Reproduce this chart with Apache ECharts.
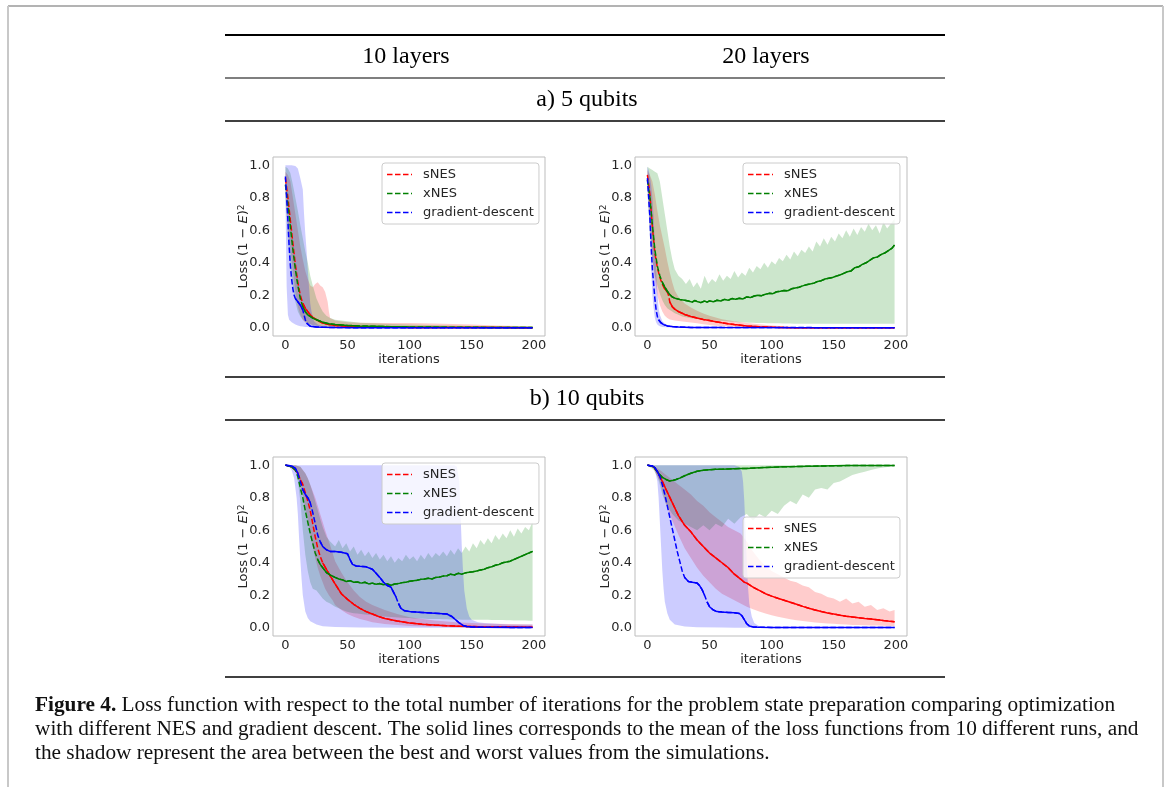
<!DOCTYPE html>
<html><head><meta charset="utf-8">
<script src="https://cdn.jsdelivr.net/npm/echarts@6/dist/echarts.min.js"></script>
<style>html,body{margin:0;padding:0;background:#fff}#c{width:1167px;height:787px}</style>
</head><body><div id="c"></div><script>
// ---------- text / ticks ----------
const seriesNames = ['sNES', 'xNES', 'gradient-descent'];
const colHeaders = ['10 layers', '20 layers'];
const rowHeaders = ['a) 5 qubits', 'b) 10 qubits'];
const xTicks = [0, 50, 100, 150, 200];
const yTicks = [0, 0.2, 0.4, 0.6, 0.8, 1.0];
const xLabel = 'iterations';
const captionLines = [
  'Loss function with respect to the total number of iterations for the problem state preparation comparing optimization',
  'with different NES and gradient descent. The solid lines corresponds to the mean of the loss functions from 10 different runs, and',
  'the shadow represent the area between the best and worst values from the simulations.'
];
const captionLabel = 'Figure 4.';

// ---------- a) 5 qubits, 10 layers : mean [it, loss], band [it, min, max] ----------
const a10_sNES_mean = [[0,0.92],[2,0.8],[4,0.66],[6,0.52],[8,0.39],[10,0.28],[12,0.2],[14,0.15],[16,0.12],[18,0.1],[20,0.08],[22,0.065],[25,0.05],[30,0.03],[35,0.02],[40,0.015],[50,0.01],[60,0.007],[80,0.005],[100,0.003],[130,0.002],[160,0.002],[199,0.001]];
const a10_xNES_mean = [[0,0.88],[2,0.76],[4,0.62],[6,0.48],[8,0.36],[10,0.26],[12,0.18],[14,0.13],[16,0.1],[18,0.08],[20,0.07],[22,0.06],[25,0.05],[30,0.035],[35,0.025],[40,0.02],[50,0.015],[60,0.012],[70,0.01],[80,0.008],[100,0.006],[130,0.004],[160,0.003],[199,0.002]];
const a10_gd_mean = [[0,0.93],[1,0.8],[2,0.66],[3,0.5],[4,0.38],[5,0.3],[6,0.24],[7,0.2],[8,0.18],[10,0.16],[12,0.14],[14,0.11],[15,0.08],[16,0.05],[17,0.03],[18,0.02],[20,0.01],[25,0.006],[30,0.004],[40,0.002],[60,0.001],[199,0.001]];
const a10_sNES_band = [[0,0.85,0.96],[2,0.62,0.94],[4,0.48,0.9],[6,0.35,0.8],[8,0.22,0.7],[10,0.13,0.6],[12,0.08,0.5],[14,0.05,0.42],[16,0.035,0.35],[18,0.028,0.3],[20,0.022,0.26],[22,0.018,0.25],[24,0.015,0.27],[26,0.012,0.28],[28,0.01,0.26],[30,0.009,0.25],[32,0.008,0.22],[34,0.007,0.16],[35,0.007,0.1],[36,0.006,0.06],[40,0.005,0.045],[50,0.004,0.035],[60,0.003,0.032],[80,0.002,0.03],[100,0.002,0.03],[120,0.001,0.027],[150,0.001,0.02],[170,0.001,0.015],[199,0,0.01]];
const a10_xNES_band = [[0,0.8,0.99],[2,0.55,0.98],[4,0.38,0.95],[6,0.25,0.88],[8,0.16,0.8],[10,0.1,0.72],[12,0.07,0.63],[14,0.05,0.55],[16,0.035,0.47],[18,0.027,0.4],[20,0.02,0.32],[22,0.016,0.26],[25,0.012,0.18],[28,0.01,0.13],[30,0.008,0.1],[33,0.006,0.075],[36,0.005,0.06],[40,0.004,0.05],[50,0.003,0.04],[60,0.002,0.032],[80,0.002,0.025],[100,0.001,0.02],[150,0.001,0.012],[199,0,0.006]];
const a10_gd_band = [[0,0.8,1.0],[1,0.25,1.0],[2,0.08,1.0],[3,0.05,1.0],[5,0.035,1.0],[8,0.02,0.995],[10,0.015,0.98],[12,0.01,0.92],[14,0.008,0.85],[15,0.007,0.7],[16,0.006,0.58],[17,0.005,0.48],[18,0.005,0.36],[19,0.004,0.25],[20,0.004,0.15],[21,0.003,0.1],[23,0.003,0.04],[26,0.002,0.02],[30,0.001,0.01],[40,0,0.005],[60,0,0.002],[199,0,0.001]];

// ---------- a) 5 qubits, 20 layers ----------
const a20_sNES_mean = [[0,0.94],[2,0.82],[4,0.62],[6,0.46],[8,0.37],[10,0.31],[12,0.27],[14,0.24],[16,0.22],[17,0.2],[18,0.16],[20,0.13],[22,0.115],[25,0.1],[28,0.09],[30,0.082],[35,0.07],[40,0.06],[45,0.052],[50,0.045],[55,0.038],[60,0.031],[65,0.025],[70,0.02],[75,0.016],[80,0.012],[90,0.007],[100,0.004],[110,0.002],[120,0.001],[150,0.0005],[199,0.0003]];
const a20_xNES_mean = [[0,0.91],[2,0.8],[4,0.63],[6,0.48],[8,0.38],[10,0.32],[12,0.28],[14,0.25],[16,0.225],[18,0.205],[20,0.19],[23,0.18],[26,0.175],[30,0.17],[33,0.165],[36,0.158],[38,0.168],[40,0.162],[43,0.155],[46,0.165],[48,0.158],[50,0.166],[53,0.16],[56,0.17],[59,0.165],[62,0.175],[65,0.17],[68,0.18],[71,0.176],[74,0.182],[77,0.178],[80,0.19],[83,0.186],[86,0.196],[89,0.2],[92,0.198],[95,0.207],[98,0.212],[101,0.21],[104,0.222],[107,0.225],[110,0.23],[113,0.228],[116,0.24],[119,0.245],[122,0.25],[125,0.258],[128,0.265],[131,0.27],[134,0.275],[137,0.285],[140,0.29],[143,0.3],[146,0.305],[149,0.31],[152,0.318],[155,0.325],[158,0.335],[161,0.345],[164,0.35],[167,0.37],[170,0.375],[173,0.39],[176,0.4],[179,0.415],[182,0.43],[185,0.435],[188,0.45],[191,0.46],[194,0.475],[197,0.49],[199,0.51]];
const a20_gd_mean = [[0,0.92],[1,0.8],[2,0.68],[3,0.5],[4,0.36],[5,0.27],[6,0.18],[7,0.11],[8,0.07],[9,0.05],[11,0.03],[13,0.02],[16,0.012],[20,0.008],[25,0.005],[35,0.003],[60,0.002],[199,0.001]];
const a20_sNES_band = [[0,0.88,0.97],[2,0.62,0.94],[4,0.42,0.9],[6,0.3,0.82],[8,0.2,0.72],[10,0.14,0.63],[12,0.1,0.56],[14,0.075,0.49],[16,0.06,0.41],[18,0.052,0.34],[20,0.048,0.28],[22,0.045,0.23],[25,0.042,0.19],[30,0.038,0.15],[35,0.033,0.125],[40,0.028,0.105],[45,0.022,0.088],[50,0.017,0.075],[55,0.013,0.063],[60,0.01,0.053],[70,0.006,0.04],[80,0.003,0.03],[90,0.002,0.022],[100,0.001,0.015],[110,0,0.01],[120,0,0.005],[140,0,0.002],[199,0,0.001]];
const a20_xNES_band = [[0,0.85,0.99],[2,0.58,0.98],[4,0.42,0.97],[6,0.32,0.96],[8,0.26,0.95],[10,0.21,0.9],[12,0.17,0.8],[14,0.14,0.7],[16,0.12,0.6],[18,0.11,0.5],[20,0.1,0.42],[22,0.09,0.36],[25,0.08,0.32],[28,0.07,0.3],[31,0.065,0.27],[34,0.06,0.3],[37,0.058,0.25],[40,0.055,0.28],[43,0.052,0.24],[46,0.05,0.32],[49,0.048,0.27],[52,0.046,0.3],[55,0.045,0.28],[58,0.043,0.33],[61,0.042,0.29],[64,0.04,0.32],[67,0.038,0.3],[70,0.037,0.35],[73,0.035,0.31],[76,0.034,0.34],[79,0.033,0.32],[82,0.032,0.37],[85,0.031,0.34],[88,0.03,0.38],[91,0.03,0.36],[94,0.03,0.4],[97,0.029,0.37],[100,0.028,0.41],[103,0.028,0.39],[106,0.028,0.43],[109,0.027,0.41],[112,0.027,0.45],[115,0.027,0.42],[118,0.026,0.47],[121,0.026,0.44],[124,0.026,0.48],[127,0.026,0.46],[130,0.025,0.5],[133,0.025,0.47],[136,0.025,0.53],[139,0.025,0.5],[142,0.025,0.55],[145,0.025,0.51],[148,0.025,0.56],[151,0.025,0.53],[154,0.025,0.58],[157,0.025,0.55],[160,0.025,0.6],[163,0.025,0.56],[166,0.025,0.61],[169,0.025,0.57],[172,0.025,0.62],[175,0.025,0.59],[178,0.025,0.64],[181,0.025,0.6],[184,0.025,0.63],[187,0.025,0.58],[190,0.025,0.65],[193,0.025,0.61],[196,0.025,0.64],[199,0.025,0.67]];
const a20_gd_band = [[0,0.88,0.99],[1,0.72,0.97],[2,0.56,0.93],[3,0.36,0.88],[4,0.2,0.8],[5,0.12,0.68],[6,0.06,0.52],[7,0.035,0.37],[8,0.02,0.22],[9,0.014,0.12],[10,0.01,0.08],[12,0.006,0.04],[15,0.004,0.02],[20,0.002,0.01],[30,0.001,0.005],[50,0,0.003],[199,0,0.002]];

// ---------- b) 10 qubits, 10 layers ----------
const b10_sNES_mean = [[0,1.0],[5,0.99],[8,0.97],[10,0.95],[12,0.91],[14,0.88],[16,0.83],[18,0.78],[20,0.72],[22,0.64],[24,0.56],[26,0.49],[28,0.44],[30,0.4],[33,0.36],[36,0.32],[40,0.27],[45,0.21],[50,0.175],[55,0.145],[60,0.12],[65,0.1],[70,0.085],[75,0.07],[80,0.058],[90,0.042],[100,0.03],[110,0.022],[120,0.017],[130,0.013],[140,0.01],[150,0.008],[160,0.006],[180,0.005],[199,0.004]];
const b10_xNES_mean = [[0,1.0],[5,0.99],[8,0.97],[10,0.93],[12,0.86],[14,0.8],[16,0.72],[18,0.65],[20,0.58],[22,0.52],[24,0.46],[26,0.42],[28,0.39],[30,0.37],[33,0.34],[36,0.325],[40,0.31],[43,0.3],[46,0.295],[49,0.285],[52,0.29],[55,0.28],[58,0.282],[61,0.275],[64,0.28],[67,0.27],[70,0.275],[73,0.268],[76,0.272],[79,0.265],[82,0.27],[85,0.262],[88,0.27],[91,0.272],[94,0.278],[97,0.28],[100,0.286],[103,0.29],[106,0.292],[109,0.298],[112,0.3],[115,0.305],[118,0.3],[121,0.31],[124,0.312],[127,0.318],[130,0.32],[133,0.33],[136,0.325],[139,0.335],[142,0.33],[145,0.338],[148,0.342],[151,0.345],[154,0.35],[157,0.355],[160,0.36],[163,0.37],[166,0.375],[169,0.385],[172,0.39],[175,0.4],[178,0.405],[181,0.41],[184,0.42],[187,0.43],[190,0.44],[193,0.45],[196,0.46],[199,0.47]];
const b10_gd_mean = [[0,1.0],[5,0.995],[8,0.98],[10,0.95],[12,0.9],[14,0.85],[16,0.82],[18,0.8],[20,0.77],[22,0.71],[24,0.64],[26,0.57],[28,0.53],[30,0.5],[33,0.48],[36,0.47],[40,0.47],[45,0.465],[50,0.455],[52,0.42],[54,0.39],[57,0.38],[60,0.378],[65,0.375],[70,0.36],[73,0.335],[76,0.31],[79,0.28],[82,0.26],[85,0.25],[87,0.22],[89,0.19],[91,0.15],[93,0.12],[96,0.105],[100,0.1],[110,0.095],[120,0.09],[130,0.085],[134,0.07],[137,0.05],[140,0.03],[143,0.015],[146,0.008],[150,0.005],[160,0.004],[180,0.003],[199,0.003]];
const b10_sNES_band = [[0,1.0,1.0],[8,0.97,1.0],[10,0.94,0.995],[12,0.88,0.99],[14,0.82,0.97],[16,0.74,0.95],[18,0.66,0.92],[20,0.57,0.88],[22,0.5,0.84],[24,0.43,0.8],[26,0.37,0.75],[28,0.32,0.7],[30,0.28,0.65],[32,0.24,0.6],[35,0.2,0.53],[38,0.17,0.46],[40,0.14,0.41],[45,0.11,0.34],[50,0.085,0.28],[55,0.068,0.23],[60,0.055,0.19],[65,0.045,0.16],[70,0.035,0.14],[80,0.024,0.11],[90,0.017,0.085],[100,0.012,0.065],[120,0.007,0.045],[140,0.004,0.033],[160,0.003,0.027],[180,0.002,0.023],[199,0.002,0.02]];
const b10_xNES_band = [[0,1.0,1.0],[8,0.97,1.0],[10,0.9,0.995],[12,0.78,0.99],[14,0.6,0.97],[16,0.45,0.95],[18,0.35,0.92],[20,0.28,0.88],[22,0.24,0.83],[25,0.23,0.75],[28,0.2,0.67],[30,0.18,0.62],[33,0.16,0.56],[36,0.15,0.53],[40,0.13,0.5],[43,0.12,0.54],[46,0.11,0.49],[49,0.1,0.52],[52,0.095,0.47],[55,0.09,0.5],[58,0.088,0.45],[61,0.085,0.48],[64,0.082,0.44],[67,0.08,0.47],[70,0.078,0.43],[73,0.075,0.46],[76,0.073,0.42],[79,0.07,0.45],[82,0.068,0.41],[85,0.066,0.44],[88,0.065,0.4],[91,0.063,0.43],[94,0.062,0.41],[97,0.06,0.45],[100,0.06,0.42],[103,0.058,0.44],[106,0.058,0.41],[109,0.057,0.45],[112,0.056,0.42],[115,0.055,0.46],[118,0.055,0.43],[121,0.054,0.46],[124,0.054,0.44],[127,0.053,0.47],[130,0.053,0.44],[133,0.052,0.48],[136,0.052,0.45],[139,0.051,0.49],[142,0.05,0.46],[145,0.05,0.5],[148,0.05,0.47],[151,0.05,0.52],[154,0.05,0.49],[157,0.05,0.54],[160,0.05,0.51],[163,0.05,0.55],[166,0.049,0.52],[169,0.049,0.57],[172,0.048,0.54],[175,0.048,0.58],[178,0.047,0.55],[181,0.047,0.6],[184,0.046,0.56],[187,0.046,0.61],[190,0.045,0.58],[193,0.045,0.62],[196,0.044,0.6],[199,0.044,0.65]];
const b10_gd_band = [[0,1.0,1.0],[3,0.99,1.0],[5,0.97,1.0],[7,0.92,1.0],[9,0.8,1.0],[10,0.7,1.0],[11,0.55,1.0],[12,0.42,1.0],[13,0.3,1.0],[14,0.2,1.0],[16,0.1,1.0],[18,0.06,1.0],[20,0.04,1.0],[25,0.02,1.0],[30,0.01,1.0],[40,0.005,1.0],[60,0.002,1.0],[100,0.001,1.0],[136,0.001,1.0],[138,0.001,0.99],[140,0.001,0.9],[141,0.001,0.7],[142,0.001,0.5],[143,0.001,0.35],[144,0.001,0.23],[146,0.001,0.12],[148,0.001,0.07],[150,0.001,0.05],[155,0.001,0.035],[160,0.001,0.03],[180,0.001,0.02],[199,0.001,0.02]];

// ---------- b) 10 qubits, 20 layers ----------
const b20_sNES_mean = [[0,1.0],[5,0.99],[8,0.96],[10,0.93],[12,0.9],[15,0.85],[20,0.77],[25,0.69],[30,0.63],[35,0.59],[40,0.54],[45,0.5],[50,0.46],[55,0.43],[60,0.4],[65,0.37],[70,0.33],[75,0.3],[78,0.28],[80,0.275],[85,0.25],[90,0.23],[95,0.21],[100,0.195],[105,0.182],[110,0.17],[115,0.157],[120,0.145],[125,0.132],[130,0.12],[135,0.11],[140,0.1],[145,0.092],[150,0.085],[155,0.078],[160,0.072],[165,0.067],[170,0.062],[175,0.058],[180,0.055],[185,0.05],[190,0.045],[195,0.041],[199,0.038]];
const b20_xNES_mean = [[0,1.0],[5,0.99],[8,0.96],[10,0.94],[12,0.925],[15,0.912],[18,0.902],[20,0.905],[23,0.912],[26,0.92],[30,0.935],[35,0.95],[40,0.962],[45,0.968],[50,0.972],[55,0.974],[60,0.975],[65,0.977],[70,0.978],[75,0.979],[80,0.98],[90,0.984],[100,0.987],[110,0.99],[120,0.991],[130,0.993],[140,0.995],[150,0.996],[160,0.997],[180,0.998],[199,0.998]];
const b20_gd_mean = [[0,1.0],[4,0.995],[6,0.985],[8,0.96],[10,0.93],[12,0.88],[14,0.82],[16,0.75],[18,0.68],[20,0.61],[22,0.54],[24,0.47],[26,0.41],[28,0.35],[30,0.31],[33,0.285],[36,0.28],[40,0.275],[42,0.26],[44,0.235],[46,0.2],[48,0.16],[50,0.13],[53,0.11],[56,0.1],[60,0.097],[65,0.095],[70,0.093],[74,0.088],[76,0.075],[78,0.05],[80,0.025],[82,0.012],[85,0.006],[90,0.004],[100,0.003],[199,0.002]];
const b20_sNES_band = [[0,1.0,1.0],[5,0.98,0.995],[10,0.9,0.97],[15,0.76,0.94],[20,0.66,0.91],[25,0.57,0.88],[30,0.49,0.85],[35,0.43,0.82],[40,0.37,0.78],[45,0.32,0.75],[50,0.28,0.71],[55,0.24,0.68],[60,0.21,0.65],[65,0.19,0.62],[70,0.17,0.6],[75,0.15,0.58],[80,0.13,0.53],[85,0.115,0.47],[90,0.1,0.42],[95,0.088,0.38],[100,0.078,0.35],[105,0.068,0.33],[110,0.06,0.31],[115,0.053,0.29],[120,0.047,0.28],[125,0.042,0.26],[130,0.037,0.25],[135,0.033,0.22],[140,0.03,0.21],[145,0.027,0.19],[150,0.025,0.18],[155,0.022,0.16],[160,0.02,0.18],[165,0.018,0.15],[170,0.017,0.16],[175,0.016,0.13],[180,0.015,0.14],[185,0.014,0.11],[190,0.013,0.12],[195,0.012,0.1],[199,0.012,0.11]];
const b20_xNES_band = [[0,1.0,1.0],[5,0.97,1.0],[8,0.93,1.0],[10,0.88,1.0],[12,0.82,1.0],[15,0.76,1.0],[20,0.7,1.0],[25,0.66,1.0],[30,0.64,1.0],[35,0.62,1.0],[40,0.6,1.0],[45,0.63,1.0],[50,0.6,1.0],[55,0.64,1.0],[60,0.62,1.0],[65,0.67,1.0],[70,0.64,1.0],[75,0.68,1.0],[80,0.7,1.0],[85,0.66,1.0],[90,0.7,1.0],[95,0.68,1.0],[100,0.72,1.0],[105,0.7,1.0],[110,0.75,1.0],[115,0.78,1.0],[120,0.76,1.0],[125,0.82,1.0],[130,0.8,1.0],[135,0.85,1.0],[140,0.86,1.0],[145,0.85,1.0],[150,0.89,1.0],[155,0.9,1.0],[160,0.92,1.0],[165,0.94,1.0],[170,0.95,1.0],[175,0.96,1.0],[180,0.97,1.0],[185,0.98,1.0],[190,0.985,1.0],[195,0.99,1.0],[199,0.993,1.0]];
const b20_gd_band = [[0,1.0,1.0],[4,0.99,1.0],[6,0.97,1.0],[8,0.9,1.0],[9,0.8,1.0],[10,0.65,1.0],[11,0.5,1.0],[12,0.35,1.0],[13,0.24,1.0],[14,0.16,1.0],[16,0.09,1.0],[18,0.05,1.0],[22,0.02,1.0],[30,0.008,1.0],[40,0.004,1.0],[60,0.002,1.0],[70,0.001,1.0],[74,0.001,0.99],[76,0.001,0.96],[77,0.001,0.9],[78,0.001,0.78],[79,0.001,0.6],[80,0.001,0.4],[81,0.001,0.25],[82,0.001,0.15],[84,0.001,0.07],[86,0.001,0.03],[90,0.001,0.01],[100,0,0.003],[199,0,0.002]];

// ---------- layout / style ----------
const COLORS = {'sNES':'#ff0000','xNES':'#008000','gradient-descent':'#0000ff'};
const FILLS = {'sNES':'rgba(255,0,0,0.2)','xNES':'rgba(0,128,0,0.2)','gradient-descent':'rgba(0,0,255,0.2)'};
const TXT = '#262626', FRAME = '#bdbdbd';
const GW = 272, GH = 179, XMIN = -10, XMAX = 209, YMIN = -0.05, YMAX = 1.05;
const panels = [
  {pos:[273,157], leg:[382,163], d:{'sNES':[a10_sNES_mean,a10_sNES_band],'xNES':[a10_xNES_mean,a10_xNES_band],'gradient-descent':[a10_gd_mean,a10_gd_band]}},
  {pos:[635,157], leg:[743,163], d:{'sNES':[a20_sNES_mean,a20_sNES_band],'xNES':[a20_xNES_mean,a20_xNES_band],'gradient-descent':[a20_gd_mean,a20_gd_band]}},
  {pos:[273,457], leg:[382,463], d:{'sNES':[b10_sNES_mean,b10_sNES_band],'xNES':[b10_xNES_mean,b10_xNES_band],'gradient-descent':[b10_gd_mean,b10_gd_band]}},
  {pos:[635,457], leg:[743,517], d:{'sNES':[b20_sNES_mean,b20_sNES_band],'xNES':[b20_xNES_mean,b20_xNES_band],'gradient-descent':[b20_gd_mean,b20_gd_band]}}
];
const DASH = 'path://M0,0H5.5V1.6H0Z M8,0H13.5V1.6H8Z M16,0H21.5V1.6H16Z M24,0H25V1.6H24Z';
const SANS = 'DejaVu Sans', SERIF = 'Liberation Serif';

function bandRender(band, fill) {
  return function (params, api) {
    if (params.dataIndex !== 0) return null;
    const pts = [];
    for (let i = 0; i < band.length; i++) pts.push(api.coord([band[i][0], band[i][2]]));
    for (let i = band.length - 1; i >= 0; i--) pts.push(api.coord([band[i][0], band[i][1]]));
    return {type:'polygon', shape:{points:pts}, style:{fill:fill}, silent:true};
  };
}
// portions of the mean curve that are shallow enough to look solid
function solidPart(mean) {
  const sx = GW / (XMAX - XMIN), sy = GH / (YMAX - YMIN);
  const out = []; let lastPushed = -1;
  for (let i = 0; i < mean.length - 1; i++) {
    const a = mean[i], b = mean[i+1];
    const steep = Math.abs((b[1]-a[1])*sy) > 2.5*Math.abs((b[0]-a[0])*sx);
    if (!steep) {
      if (lastPushed !== i) out.push(a);
      out.push(b); lastPushed = i + 1;
    } else {
      out.push([(a[0]+b[0])/2, '-']);
    }
  }
  return out;
}

const grid = [], xAxis = [], yAxis = [], series = [], legend = [];
panels.forEach((p, k) => {
  grid.push({left:p.pos[0], top:p.pos[1], width:GW, height:GH, show:true, borderColor:FRAME, borderWidth:1, backgroundColor:'transparent', containLabel:false});
  xAxis.push({gridIndex:k, type:'value', min:XMIN, max:XMAX,
    axisLine:{show:false}, axisTick:{show:false, customValues:xTicks}, splitLine:{show:false},
    axisLabel:{customValues:xTicks, fontFamily:SANS, fontSize:13, color:TXT, margin:3},
    name:xLabel, nameLocation:'middle', nameGap:12, nameTextStyle:{fontFamily:SANS, fontSize:13, color:TXT}});
  yAxis.push({gridIndex:k, type:'value', min:YMIN, max:YMAX,
    axisLine:{show:false}, axisTick:{show:false, customValues:yTicks}, splitLine:{show:false},
    axisLabel:{customValues:yTicks, fontFamily:SANS, fontSize:13, color:TXT, margin:3, formatter:v => v.toFixed(1)},
    name:'{n|Loss (1 − }{i|E}{n|)}{s|2}', nameLocation:'middle', nameRotate:90, nameGap:23, nameMoveOverlap:false,
    nameTextStyle:{rich:{
      n:{fontFamily:SANS, fontSize:13, color:TXT},
      i:{fontFamily:SANS, fontSize:13, fontStyle:'italic', color:TXT},
      s:{fontFamily:SANS, fontSize:9, color:TXT, verticalAlign:'top'}}}});
  seriesNames.forEach(n => {
    const band = p.d[n][1];
    series.push({type:'custom', name:n+' range', xAxisIndex:k, yAxisIndex:k, data:band, encode:{x:0, y:[1,2]},
      renderItem:bandRender(band, FILLS[n]), silent:true, z:1, clip:true});
  });
  seriesNames.forEach(n => {
    const mean = p.d[n][0];
    series.push({type:'line', name:n, xAxisIndex:k, yAxisIndex:k, data:mean, symbol:'none', z:3,
      lineStyle:{color:COLORS[n], width:1.5, type:[5.5,2.4]}, itemStyle:{color:COLORS[n]}, silent:true});
    series.push({type:'line', name:n+' mean', xAxisIndex:k, yAxisIndex:k, data:solidPart(mean), symbol:'none', z:3,
      connectNulls:false, lineStyle:{color:COLORS[n], width:1.5}, itemStyle:{color:COLORS[n]}, silent:true});
  });
  legend.push({orient:'vertical', left:p.leg[0], top:p.leg[1],
    data:seriesNames.map(n => ({name:n, icon:DASH})), itemWidth:25, itemHeight:1.6, itemGap:6,
    padding:[5,5,5,5], backgroundColor:'rgba(255,255,255,0.8)', borderColor:'#cccccc', borderWidth:1, borderRadius:3,
    selectedMode:false, textStyle:{fontFamily:SANS, fontSize:13, color:TXT, padding:[0,0,0,6]}});
});

const RL = 225, RR = 945;
function rule(y, w) { return {type:'line', shape:{x1:RL, y1:y, x2:RR, y2:y}, style:{stroke:'#000', lineWidth:w}, silent:true}; }
function txt(s, x, y, size, align) { return {type:'text', x:x, y:y, silent:true, style:{text:s, fontFamily:SERIF, fontSize:size, fill:'#000', align:align||'center', verticalAlign:'middle'}}; }
const CAP = 21.3;
const graphic = [
  {type:'line', shape:{x1:8, y1:6, x2:1163, y2:6}, style:{stroke:'#9a9a9a', lineWidth:1.5}, silent:true},
  {type:'line', shape:{x1:8, y1:6, x2:8, y2:787}, style:{stroke:'#c8c8c8', lineWidth:2}, silent:true},
  {type:'line', shape:{x1:1163, y1:6, x2:1163, y2:787}, style:{stroke:'#c8c8c8', lineWidth:2}, silent:true},
  rule(35, 2), rule(78, 1.2), rule(121, 1.6), rule(377, 1.6), rule(420, 1.6), rule(677, 1.6),
  txt(colHeaders[0], 406, 57, 24), txt(colHeaders[1], 766, 57, 24),
  txt(rowHeaders[0], 587, 100, 24), txt(rowHeaders[1], 587, 399, 24),
  {type:'text', x:35, y:705, silent:true, style:{text:'{b|' + captionLabel + '} ' + captionLines[0], fontFamily:SERIF, fontSize:CAP, fill:'#111', verticalAlign:'middle',
    rich:{b:{fontFamily:SERIF, fontSize:CAP, fontWeight:'bold', fill:'#111'}}}},
  {type:'text', x:35, y:729, silent:true, style:{text:captionLines[1], fontFamily:SERIF, fontSize:CAP, fill:'#111', align:'left', verticalAlign:'middle'}},
  {type:'text', x:35, y:753, silent:true, style:{text:captionLines[2], fontFamily:SERIF, fontSize:CAP, fill:'#111', align:'left', verticalAlign:'middle'}}
];

const chart = echarts.init(document.getElementById('c'));
chart.setOption({animation:false, backgroundColor:'#fff', grid, xAxis, yAxis, series, legend, graphic});
</script></body></html>
